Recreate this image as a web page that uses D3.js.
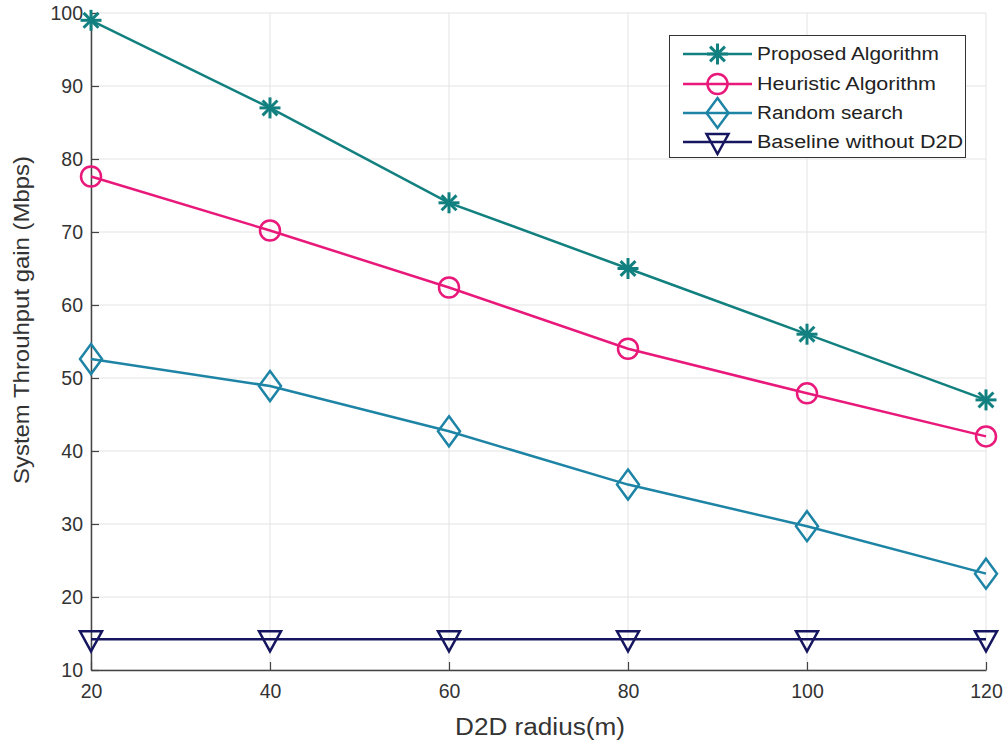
<!DOCTYPE html>
<html><head><meta charset="utf-8">
<script src="https://cdn.jsdelivr.net/npm/d3@7"></script>
<style>body{margin:0;background:#fff;}svg{display:block;font-family:"Liberation Sans",Arial,sans-serif;}</style>
</head><body>
<svg id="c" width="1007" height="746"></svg>
<script>
const radius = [20, 40, 60, 80, 100, 120];
const proposed = [99, 87, 74, 65, 56, 47];
const heuristic = [77.6, 70.2, 62.4, 54.0, 47.9, 42.0];
const randomSearch = [52.6, 48.9, 42.7, 35.4, 29.7, 23.2];
const baseline = [14.2, 14.2, 14.2, 14.2, 14.2, 14.2];
const seriesNames = ["Proposed Algorithm", "Heuristic Algorithm", "Random search", "Baseline without D2D"];
const xTicks = [20, 40, 60, 80, 100, 120];
const yTicks = [10, 20, 30, 40, 50, 60, 70, 80, 90, 100];

const svg = d3.select("#c");
const L = 91, R = 986, T = 13, B = 670;
const x = d3.scaleLinear().domain([20, 120]).range([L, R]);
const y = d3.scaleLinear().domain([10, 100]).range([B, T]);

// grid
svg.append("g").selectAll("line").data(yTicks).join("line")
  .attr("x1", L).attr("x2", R).attr("y1", d => y(d)).attr("y2", d => y(d))
  .attr("stroke", "#e3e3e3").attr("stroke-width", 1);
svg.append("g").selectAll("line").data(xTicks).join("line")
  .attr("y1", T).attr("y2", B).attr("x1", d => x(d)).attr("x2", d => x(d))
  .attr("stroke", "#e3e3e3").attr("stroke-width", 1);

// axes
const ax = svg.append("g").attr("transform", `translate(0,${B})`)
  .call(d3.axisBottom(x).tickValues(xTicks).tickSize(-8).tickPadding(12).tickSizeOuter(0));
const ay = svg.append("g").attr("transform", `translate(${L},0)`)
  .call(d3.axisLeft(y).tickValues(yTicks).tickSize(-8).tickPadding(12).tickSizeOuter(0));
[ax, ay].forEach(g => {
  g.select(".domain").attr("stroke", "#444").attr("stroke-width", 1.5);
  g.selectAll(".tick line").attr("stroke", "#444").attr("stroke-width", 1.2);
  g.selectAll("text").attr("fill", "#333").style("font-size", "19.5px").style("font-family", '"Liberation Sans",Arial,sans-serif');
});
ax.selectAll("text").attr("dy", "0.8em");
ay.selectAll("text").attr("dx", "4px");

svg.append("text").attr("x", 540).attr("y", 735).attr("text-anchor", "middle")
  .attr("fill", "#333").style("font-size", "23px").attr("textLength", 170).attr("lengthAdjust", "spacingAndGlyphs").text("D2D radius(m)");
svg.append("text").attr("transform", `translate(29,320) rotate(-90)`).attr("text-anchor", "middle")
  .attr("fill", "#333").style("font-size", "22px").attr("textLength", 328).attr("lengthAdjust", "spacingAndGlyphs").text("System Throuhput gain (Mbps)");

const colors = ["#138080", "#e8197a", "#1e84a6", "#161660"];
const data = [proposed, heuristic, randomSearch, baseline];
const markers = ["star", "circle", "diamond", "tri"];

function drawMarker(g, type, cx, cy, col, s) {
  s = s || 1;
  if (type === "star") {
    const r = 10.5 * s;
    for (let a = 0; a < 4; a++) {
      const ang = a * Math.PI / 4;
      g.append("line").attr("x1", cx - r * Math.cos(ang)).attr("y1", cy - r * Math.sin(ang))
        .attr("x2", cx + r * Math.cos(ang)).attr("y2", cy + r * Math.sin(ang))
        .attr("stroke", col).attr("stroke-width", 3);
    }
  } else if (type === "circle") {
    g.append("circle").attr("cx", cx).attr("cy", cy).attr("r", 10 * s)
      .attr("fill", "none").attr("stroke", col).attr("stroke-width", 2.5);
  } else if (type === "diamond") {
    const w = 11 * s, h = 15 * s;
    g.append("path").attr("d", `M${cx},${cy - h}L${cx + w},${cy}L${cx},${cy + h}L${cx - w},${cy}Z`)
      .attr("fill", "none").attr("stroke", col).attr("stroke-width", 2.5);
  } else {
    const w = 11 * s, h1 = 8 * s, h2 = 12 * s;
    g.append("path").attr("d", `M${cx - w},${cy - h1}L${cx + w},${cy - h1}L${cx},${cy + h2}Z`)
      .attr("fill", "none").attr("stroke", col).attr("stroke-width", 2.5);
  }
}

const line = d3.line().x((d, i) => x(radius[i])).y(d => y(d));
data.forEach((vals, k) => {
  const g = svg.append("g");
  g.append("path").datum(vals).attr("d", line).attr("fill", "none")
    .attr("stroke", colors[k]).attr("stroke-width", 2.5);
  vals.forEach((v, i) => drawMarker(g, markers[k], x(radius[i]), y(v), colors[k]));
});

// legend
const lg = svg.append("g");
lg.append("rect").attr("x", 669.5).attr("y", 35.5).attr("width", 296).attr("height", 122)
  .attr("fill", "#fff").attr("stroke", "#333").attr("stroke-width", 1);
const legY = [54, 84, 113, 142];
const legW = [182, 179, 146, 206];
seriesNames.forEach((n, k) => {
  lg.append("line").attr("x1", 683).attr("x2", 752).attr("y1", legY[k]).attr("y2", legY[k])
    .attr("stroke", colors[k]).attr("stroke-width", 2.5);
  drawMarker(lg, markers[k], 717.5, legY[k], colors[k], 1);
  lg.append("text").attr("x", 757).attr("y", legY[k]).attr("dy", "0.36em")
    .attr("fill", "#222").style("font-size", "18px").attr("textLength", legW[k]).attr("lengthAdjust", "spacingAndGlyphs").text(n);
});
</script>
</body></html>
